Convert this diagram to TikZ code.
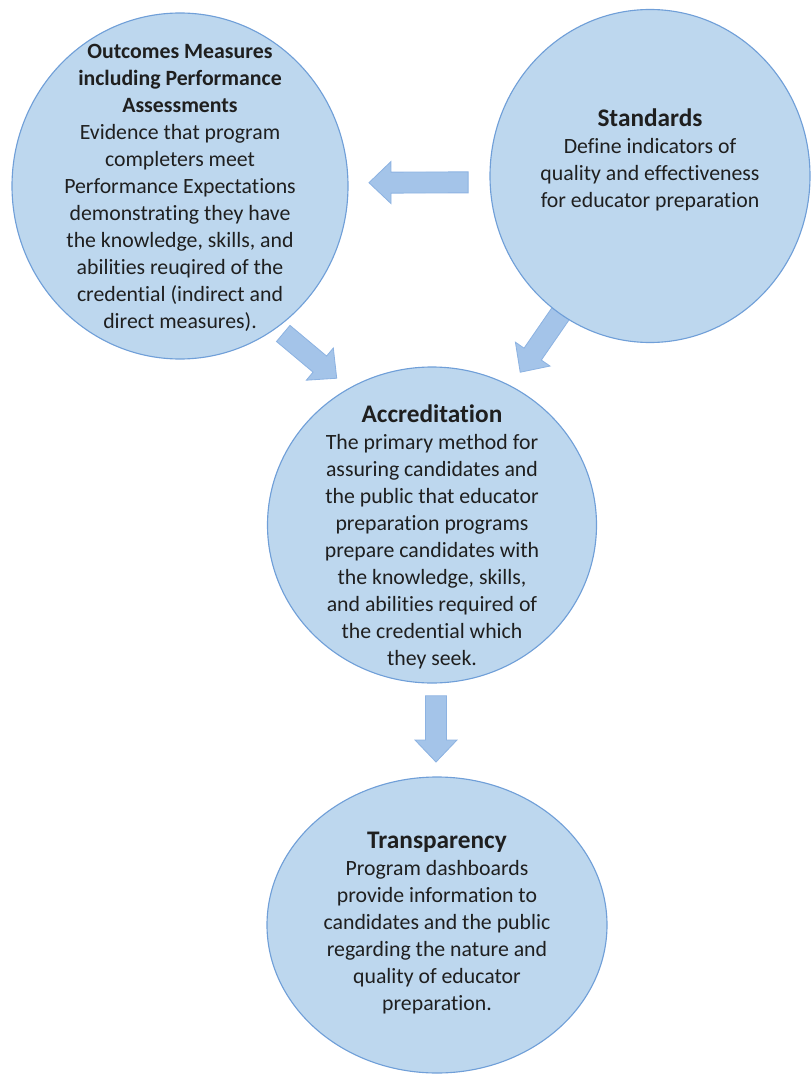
\documentclass[tikz,border=0pt]{standalone}
\usepackage{fontspec}
\setmainfont{Carlito}[Ligatures=NoCommon]
\usetikzlibrary{calc,shapes.geometric,backgrounds}

\definecolor{bubblefill}{HTML}{BDD7EE}
\definecolor{bubbleline}{HTML}{709FD8}
\definecolor{arrowfill}{HTML}{A4C4E9}
\definecolor{arrowline}{HTML}{8DB3E2}

\newcommand{\ttl}[1]{{\fontsize{18}{19.2}\selectfont\bfseries #1}}
\newcommand{\blockarrow}[2]{%
  \path #1 coordinate (ba-s) #2 coordinate (ba-e) ($(ba-e)!0.55cm!(ba-s)$) coordinate (ba-h);
  \filldraw[fill=arrowfill,draw=arrowline,line width=0.6pt,line join=miter]
    ($(ba-s)!0.2625cm!90:(ba-e)$) -- ($(ba-h)!0.2625cm!-90:(ba-s)$) -- ($(ba-h)!0.525cm!-90:(ba-s)$)
    -- (ba-e) -- ($(ba-h)!0.525cm!90:(ba-s)$) -- ($(ba-h)!0.2625cm!90:(ba-s)$)
    -- ($(ba-s)!0.2625cm!-90:(ba-e)$) -- cycle;
}

\begin{document}
\begin{tikzpicture}[bubble/.style={draw=bubbleline,fill=bubblefill,ellipse,inner sep=0pt,line width=0.8pt},
  body/.style={align=center,text=black!88,inner sep=0pt,font=\fontsize{15.5}{19.2}\selectfont}]
\useasboundingbox (0,0) rectangle (20.25,-26.85);

\node[bubble,minimum width=8.4cm,minimum height=8.65cm] (out) at (4.5,-4.65) {};
\node[bubble,minimum width=8.0cm,minimum height=8.325cm] (std) at (16.25,-4.4) {};
\node[bubble,minimum width=8.225cm,minimum height=7.9cm] (acc) at (10.8,-13.125) {};
\node[bubble,minimum width=8.5cm,minimum height=7.4cm] (tra) at (10.925,-23.125) {};

\node[body] (out-txt) at ([yshift=-0.05cm]out.center) {\textbf{Outcomes Measures}\\\textbf{including Performance}\\\textbf{Assessments}\\
  Evidence that program\\completers meet\\Performance Expectations\\demonstrating they have\\
  the knowledge, skills, and\\abilities reuqired of the\\credential (indirect and\\direct measures).};
\node[body] (std-txt) at ([yshift=0.4cm]std.center) {\ttl{Standards}\\Define indicators of\\quality and effectiveness\\for educator preparation};
\node[body] (acc-txt) at ([yshift=-0.3cm]acc.center) {\ttl{Accreditation}\\The primary method for\\assuring candidates and\\
  the public that educator\\preparation programs\\prepare candidates with\\the knowledge, skills,\\
  and abilities required of\\the credential which\\they seek.};
\node[body] (tra-txt) at ([yshift=0.05cm]tra.center) {\ttl{Transparency}\\Program dashboards\\provide information to\\
  candidates and the public\\regarding the nature and\\quality of educator\\preparation.};

\begin{scope}[on background layer]
\blockarrow{($(std.center)+(182:4.55)$)}{($(out.center)+(1:4.725)$)}
\blockarrow{($(out.center)+(-55:4.5)$)}{($(acc.center)+(123:4.375)$)}
\blockarrow{($(std.center)+(-123:4.1)$)}{($(acc.center)+(60:4.41)$)}
\blockarrow{($(acc.center)+(0.1,-4.27)$)}{($(tra.center)+(-0.025,4.075)$)}
\end{scope}
\end{tikzpicture}
\end{document}
